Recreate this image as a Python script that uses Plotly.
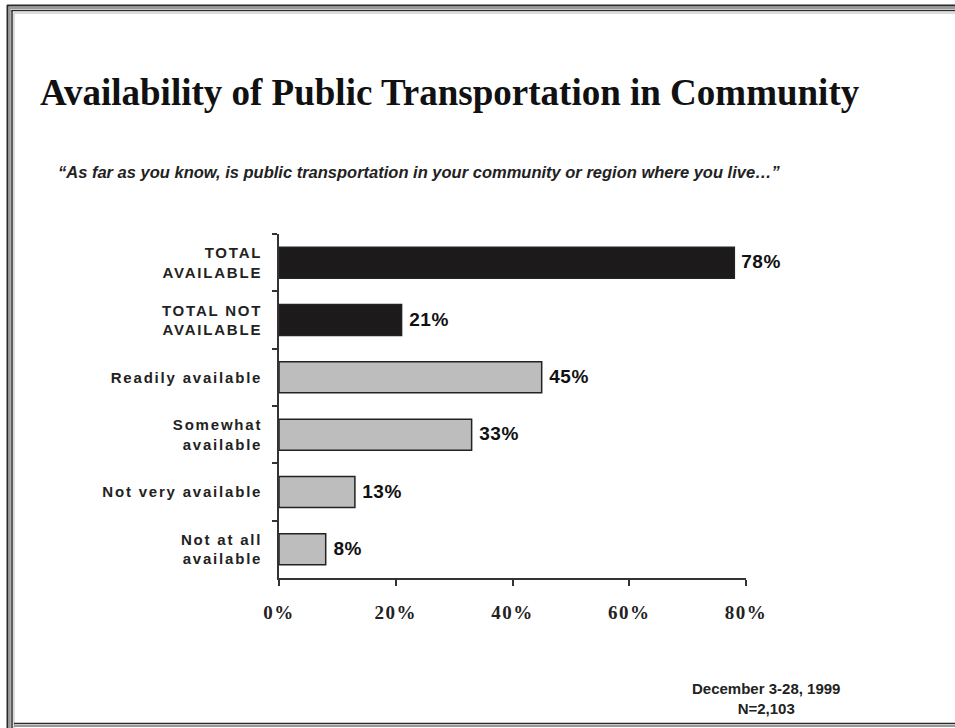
import plotly.graph_objects as go

# Survey answers, top to bottom
categories = [
    "TOTAL<br>AVAILABLE",
    "TOTAL NOT<br>AVAILABLE",
    "Readily available",
    "Somewhat<br>available",
    "Not very available",
    "Not at all<br>available",
]
values = [78, 21, 45, 33, 13, 8]
value_labels = ["78%", "21%", "45%", "33%", "13%", "8%"]
bar_colors = ["#1c1a1a", "#1c1a1a", "#bdbdbd", "#bdbdbd", "#bdbdbd", "#bdbdbd"]
x_ticks = [0, 20, 40, 60, 80]
x_tick_labels = ["0%", "20%", "40%", "60%", "80%"]

W, H = 955, 728
# plot area in pixels
PL, PR, PT, PB = 279, 746, 234, 578


def px_x(x):
    return (x - PL) / (PR - PL)


def px_y(y):
    return (PB - y) / (PB - PT)


fig = go.Figure(
    go.Bar(
        x=values,
        y=categories,
        orientation="h",
        width=0.54,
        marker=dict(color=bar_colors, line=dict(color="#222222", width=1.5)),
        cliponaxis=False,
    )
)

# value labels just past the end of each bar
for v, cat, lab in zip(values, categories, value_labels):
    fig.add_annotation(
        x=v, y=cat, text=f"<b>{lab}</b>", xref="x", yref="y",
        xanchor="left", yanchor="middle", xshift=6, yshift=1, showarrow=False,
        font=dict(family="Liberation Sans, Arial", size=19, color="#111111"),
    )

fig.update_layout(
    width=W,
    height=H,
    margin=dict(l=PL, r=W - PR, t=PT, b=H - PB),
    paper_bgcolor="white",
    plot_bgcolor="white",
    showlegend=False,
    title=dict(
        text="<b>Availability of Public Transportation in Community</b>",
        font=dict(family="Liberation Serif, Times New Roman", size=37, color="#111111"),
        x=40 / W,
        xanchor="left",
        y=1 - 92 / H,
        yanchor="middle",
    ),
)

fig.update_xaxes(
    range=[0, 80],
    tickvals=x_ticks,
    ticktext=x_tick_labels,
    showgrid=False,
    zeroline=False,
    showline=True,
    linecolor="#333333",
    linewidth=1.5,
    ticks="outside",
    ticklen=6,
    tickwidth=1.5,
    tickcolor="#333333",
    ticklabelstandoff=10,
    tickfont=dict(family="Liberation Serif, Times New Roman", size=19, color="#222222", weight="bold"),
)

fig.update_yaxes(
    categoryorder="array",
    categoryarray=categories,
    autorange="reversed",
    showgrid=False,
    zeroline=False,
    showline=True,
    linecolor="#333333",
    linewidth=1.5,
    ticks="outside",
    tickson="boundaries",
    ticklen=5,
    tickwidth=1.5,
    tickcolor="#333333",
    ticklabelstandoff=12,
    tickfont=dict(family="Liberation Sans, Arial", size=15, color="#222222", weight="bold"),
)

# question wording
fig.add_annotation(
    text="<b><i>\u201cAs far as you know, is public transportation in your community or region where you live\u2026\u201d</i></b>",
    x=px_x(419), y=px_y(172), xref="paper", yref="paper",
    xanchor="center", yanchor="middle", showarrow=False,
    font=dict(family="Liberation Sans, Arial", size=16.5, color="#222222"),
)

# field dates and sample size
fig.add_annotation(
    text="<b>December 3-28, 1999</b><br><b>N=2,103</b>",
    x=px_x(766), y=px_y(698), xref="paper", yref="paper",
    xanchor="center", yanchor="middle", showarrow=False, align="center",
    font=dict(family="Liberation Sans, Arial", size=15, color="#222222"),
)

# double-rule frame around the slide
frame = [
    # (x0, y0, x1, y1, color, width)
    (7.5, 5, 7.5, H, "#2a2a2a", 2),
    (9.8, 7, 9.8, H, "#9a9a9a", 2),
    (12, 10, 12, H, "#2a2a2a", 1.5),
    (14, 13, 14, H, "#cfcfcf", 1.5),
    (7, 5.5, W, 5.5, "#2a2a2a", 2),
    (9, 8, W, 8, "#9a9a9a", 2),
    (11.5, 10.5, W, 10.5, "#2a2a2a", 1.5),
    (13.5, 13, W, 13, "#cfcfcf", 1.5),
    (14, 723.5, W, 723.5, "#2a2a2a", 1.5),
    (14, 726, W, 726, "#9a9a9a", 2),
]
for x0, y0, x1, y1, c, w in frame:
    fig.add_shape(
        type="line", xref="paper", yref="paper",
        x0=px_x(x0), x1=px_x(x1), y0=px_y(y0), y1=px_y(y1),
        line=dict(color=c, width=w), layer="above",
    )

# widen the letter spacing of the axis labels
spacing_js = """
var gd = document.getElementById('{plot_id}');
function spaceLabels() {
  gd.querySelectorAll('.ytick text').forEach(function(t){ t.style.letterSpacing = '1.8px'; });
  gd.querySelectorAll('.xtick text').forEach(function(t){ t.style.letterSpacing = '1.5px'; });
  gd.querySelectorAll('.annotation-text').forEach(function(t){
    if (t.textContent.indexOf('%') >= 0) { t.style.letterSpacing = '0.5px'; }
  });
}
spaceLabels();
gd.on('plotly_afterplot', spaceLabels);
"""

fig.write_html("out.html", post_script=spacing_js)
